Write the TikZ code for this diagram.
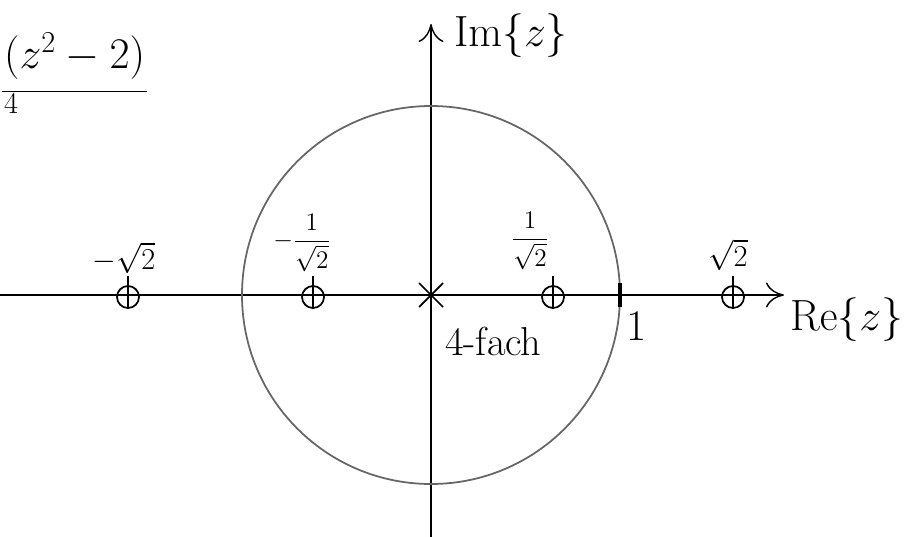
\documentclass[tikz,border=0pt]{standalone}
\usepackage{amsmath}
\usetikzlibrary{arrows.meta}
\tikzset{
  axis/.style={-{To[length=3.6mm,width=5mm]}, line width=0.8pt},
  zero/.style={circle, draw, line width=1pt, minimum size=4.4mm, inner sep=0pt},
  unitcircle/.style={draw=black!60, line width=1pt},
  lbl/.style={font=\fontsize{19}{22}\selectfont, inner sep=1pt},
  biglbl/.style={font=\fontsize{23}{26}\selectfont, inner sep=1pt},
  fraclbl/.style={font=\fontsize{15}{17}\selectfont, inner sep=1pt},
}
\begin{document}
\begin{tikzpicture}[x=0.02cm,y=-0.02cm]
  \useasboundingbox (0,0) rectangle (909,537);
  % axes
  \coordinate (O) at (431,295);
  \coordinate (west) at (0,295);
  \coordinate (east) at (784,295);
  \coordinate (south) at (431,537);
  \coordinate (north) at (431,24);
  \draw[axis] (west) -- (east);
  \draw[axis] (south) -- (north);
  \node[biglbl,anchor=west] (relabel) at (788,320) {$\mathrm{Re}\{z\}$};
  \node[biglbl,anchor=west] (imlabel) at (452,36) {$\mathrm{Im}\{z\}$};
  % unit circle
  \draw[unitcircle] (O) circle [radius=189];
  \coordinate (one) at (620,295);
  \draw[line width=2pt] ([yshift=-7pt]one) -- ([yshift=7pt]one);
  \node[biglbl,anchor=west] (onelabel) at (624,326) {$1$};
  % pole
  \node[biglbl,anchor=north west] (order) at (443,325) {4-fach};
  \draw[line width=1pt] ([shift={(-12,-12)}]O) -- ([shift={(12,12)}]O)
                        ([shift={(-12,12)}]O) -- ([shift={(12,-12)}]O);
  % zeros
  \foreach \name/\px in {zm2/128, zm1/313, zp1/553, zp2/733}{
    \node[zero] (\name) at (\px,297) {};
    \draw[line width=1pt] ([yshift=5pt]\name.north) -- (\name.south);
  }
  \node[lbl] (lm2) at (124,258) {$-\sqrt{2}$};
  \node[fraclbl] (lm1) at (302,243) {$-\dfrac{1}{\sqrt{2}}$};
  \node[fraclbl] (lp1) at (530,241) {$\dfrac{1}{\sqrt{2}}$};
  \node[lbl] (lp2) at (728,255) {$\sqrt{2}$};
  % transfer function
  \node[biglbl,anchor=west] (num) at (2,56) {$(z^2-2)$};
  \draw[line width=0.6pt] ([yshift=-6pt]num.south west) -- ([yshift=-6pt]num.south east);
  \node[lbl,anchor=north west] (den) at ([yshift=-6pt]num.south west) {$4$};
\end{tikzpicture}
\end{document}
